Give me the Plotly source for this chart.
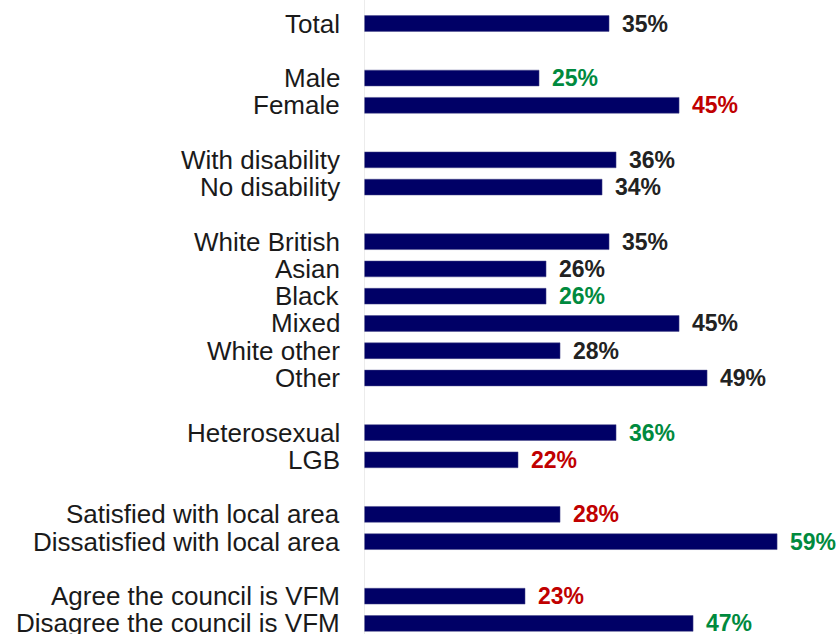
import plotly.graph_objects as go

categories = ["Total", "Male", "Female", "With disability", "No disability",
              "White British", "Asian", "Black", "Mixed", "White other", "Other",
              "Heterosexual", "LGB", "Satisfied with local area", "Dissatisfied with local area",
              "Agree the council is VFM", "Disagree the council is VFM"]
slots = [0, 2, 3, 5, 6, 8, 9, 10, 11, 12, 13, 15, 16, 18, 19, 21, 22]
values = [35, 25, 45, 36, 34, 35, 26, 26, 45, 28, 49, 36, 22, 28, 59, 23, 47]
label_colors = ["#222222", "#008a3e", "#c00000", "#222222", "#222222",
                "#222222", "#222222", "#008a3e", "#222222", "#222222", "#222222",
                "#008a3e", "#c00000", "#c00000", "#008a3e", "#c00000", "#008a3e"]

fig = go.Figure()
fig.add_trace(go.Bar(
    x=values, y=slots, orientation="h",
    marker=dict(color="#000066", line=dict(color="#4a4a8a", width=0.5)),
    width=0.58, hoverinfo="skip"))

for v, s, c in zip(values, slots, label_colors):
    fig.add_annotation(x=v, y=s, text=f"<b>{v}%</b>", showarrow=False,
                       xanchor="left", yanchor="middle", xshift=11,
                       font=dict(family="Arial, 'Liberation Sans'", size=23, color=c))

for name, s in zip(categories, slots):
    fig.add_annotation(x=0, xref="paper", y=s, text=name, showarrow=False,
                       xanchor="right", yanchor="middle", xshift=-22,
                       font=dict(family="Arial, 'Liberation Sans'", size=26, color="#1a1a1a"))

fig.update_layout(
    width=838, height=634,
    margin=dict(l=364, r=0, t=0, b=0),
    paper_bgcolor="white", plot_bgcolor="white",
    showlegend=False,
    xaxis=dict(range=[0, 67.7], visible=False, fixedrange=True),
    yaxis=dict(range=[22.387, -0.862], showticklabels=False, showgrid=False,
               zeroline=False, showline=False, ticks=""),
)
fig.add_shape(type="line", xref="x", yref="paper", x0=0, x1=0, y0=0, y1=1,
              line=dict(color="#d9d9d9", width=1))
fig.write_html("out.html")
